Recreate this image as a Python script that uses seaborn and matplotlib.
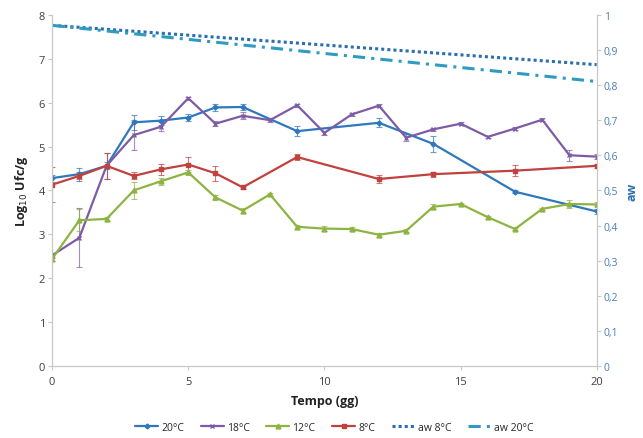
import matplotlib
matplotlib.use('Agg')
import matplotlib.pyplot as plt
import seaborn as sns
import pandas as pd

# dati
giorni_rari = [0, 1, 2, 3, 4, 5, 6, 7, 9, 12, 14, 17, 20]
giorni_tutti = list(range(21))

log_20 = [4.28, 4.37, 4.56, 5.55, 5.59, 5.66, 5.89, 5.90, 5.35, 5.54, 5.06, 3.97, 3.52]
err_20 = [0.08, 0.15, 0.08, 0.17, 0.10, 0.08, 0.07, 0.07, 0.12, 0.10, 0.18, 0.04, 0.05]

log_18 = [2.52, 2.92, 4.56, 5.26, 5.45, 6.10, 5.52, 5.70, 5.60, 5.94, 5.31,
          5.73, 5.93, 5.20, 5.39, 5.52, 5.22, 5.41, 5.61, 4.80, 4.77]
err_18 = [0.05, 0.67, 0.30, 0.35, 0.10, 0.03, 0.05, 0.08, 0.05, 0.03, 0.05,
          0.03, 0.03, 0.08, 0.03, 0.03, 0.03, 0.03, 0.03, 0.12, 0.05]

log_12 = [2.44, 3.32, 3.35, 4.00, 4.21, 4.41, 3.84, 3.54, 3.91, 3.17, 3.13,
          3.12, 2.99, 3.08, 3.63, 3.69, 3.39, 3.12, 3.58, 3.69, 3.68]
err_12 = [0.05, 0.25, 0.05, 0.20, 0.08, 0.05, 0.05, 0.05, 0.03, 0.05, 0.05,
          0.05, 0.05, 0.03, 0.05, 0.03, 0.03, 0.03, 0.03, 0.10, 0.05]

log_8 = [4.13, 4.33, 4.56, 4.33, 4.48, 4.59, 4.39, 4.07, 4.76, 4.26, 4.37, 4.45, 4.56]
err_8 = [0.40, 0.08, 0.30, 0.08, 0.13, 0.17, 0.17, 0.03, 0.07, 0.10, 0.06, 0.12, 0.04]

giorni_aw = [0, 20]
aw_8 = [0.970, 0.858]
aw_20 = [0.970, 0.810]

sns.set_style('white')
plt.rcParams['font.family'] = ['Open Sans', 'DejaVu Sans']

fig = plt.figure(figsize=(6.43, 4.39), dpi=100)
ax = fig.add_axes([0.081, 0.164, 0.847, 0.8])
ax2 = ax.twinx()

serie = [
    ('20°C', giorni_rari, log_20, err_20, '#2E78BE', 'D', 2.5),
    ('18°C', giorni_tutti, log_18, err_18, '#7D5BA6', 'x', 3.5),
    ('12°C', giorni_tutti, log_12, err_12, '#8DB441', '^', 3.5),
    ('8°C', giorni_rari, log_8, err_8, '#C0413D', 's', 3.5),
]

handles = []
for nome, x, y, e, col, mk, ms in serie:
    ax.errorbar(x, y, yerr=e, fmt='none', ecolor=col, elinewidth=0.8,
                capsize=2, capthick=0.8, alpha=0.7, zorder=2)
    sns.lineplot(x=x, y=y, ax=ax, color=col, marker=mk, markersize=ms,
                 markeredgecolor=col, markeredgewidth=1, linewidth=1.6,
                 label=nome, legend=False, zorder=3)
    handles.append(ax.lines[-1])

df_aw = pd.DataFrame({'giorno': giorni_aw, 'aw8': aw_8, 'aw20': aw_20})
sns.lineplot(data=df_aw, x='giorno', y='aw8', ax=ax2, color='#2A6FAF',
             linestyle=(0, (1, 1)), linewidth=2.2, label='aw 8°C', legend=False)
sns.lineplot(data=df_aw, x='giorno', y='aw20', ax=ax2, color='#2F9BC0',
             linestyle=(0, (4, 2, 1, 2)), linewidth=2.2, label='aw 20°C', legend=False)
handles += ax2.lines[-2:]

ax.set_xlim(0, 20)
ax.set_ylim(0, 8)
ax2.set_ylim(0, 1)
ax.set_xticks([0, 5, 10, 15, 20])
ax.set_yticks(range(9))
ax2.set_yticks([i / 10 for i in range(11)])
ax2.set_yticklabels(['0'] + [f'0,{i}' for i in range(1, 10)] + ['1'])

grigio = '#C8C8C8'
for a in (ax, ax2):
    for s in a.spines.values():
        s.set_color(grigio)
    a.spines['top'].set_visible(False)
ax.tick_params(axis='both', length=3, color=grigio, labelsize=8, labelcolor='#404040',
               direction='out', pad=2)
ax.tick_params(axis='y', left=True)
ax.tick_params(axis='x', bottom=True, pad=4)
ax2.tick_params(axis='y', length=3, color=grigio, labelsize=7.5, labelcolor='#4A7FB8',
                direction='out', pad=2, right=True)

ax.set_xlabel('Tempo (gg)', fontsize=9, fontweight='bold', color='#222222', labelpad=5)
ax.set_ylabel('Log$_{10}$ Ufc/g', fontsize=9, fontweight='bold', color='#222222', labelpad=6)
ax2.set_ylabel('aw', fontsize=9, fontweight='bold', color='#2E6FB0', labelpad=5)

fig.legend(handles=handles, labels=['20°C', '18°C', '12°C', '8°C', 'aw 8°C', 'aw 20°C'],
           loc='center', bbox_to_anchor=(0.52, 0.025), ncol=6, frameon=False,
           fontsize=7.5, handlelength=2.2, columnspacing=1.6, handletextpad=0.3)

plt.savefig('out.png', dpi=100)
plt.close()
